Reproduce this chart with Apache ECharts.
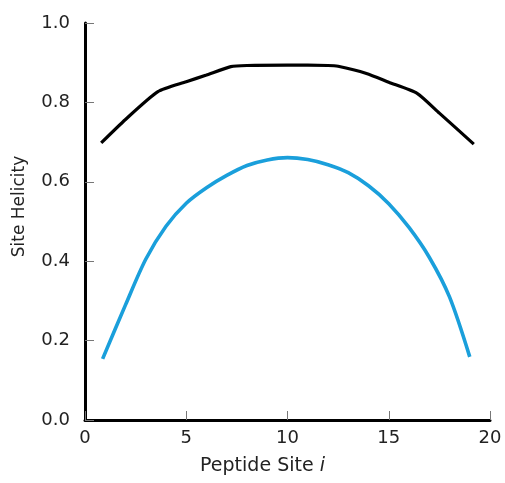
<!DOCTYPE html>
<html>
<head>
<meta charset="utf-8">
<script src="https://cdn.jsdelivr.net/npm/echarts@6/dist/echarts.min.js"></script>
<style>
html,body{margin:0;padding:0;background:#fff;}
#chart{width:505px;height:483px;}
</style>
</head>
<body>
<div id="chart"></div>
<script>
// Upper (black) curve
var blackX = [0.8, 2.0, 3.6, 5.0, 6.0, 7.2, 8.0, 10.0, 12.0, 12.5, 13.9, 15.0, 16.4, 17.5, 19.2];
var blackY = [0.698, 0.757, 0.827, 0.852, 0.869, 0.890, 0.893, 0.894, 0.893, 0.891, 0.873, 0.851, 0.823, 0.773, 0.695];
// Lower (blue) curve
var blueX = [0.87, 2, 3, 4, 5, 6, 7, 8, 9, 10, 11, 12, 13, 14, 15, 16, 17, 18, 19];
var blueY = [0.154, 0.29, 0.405, 0.488, 0.546, 0.585, 0.616, 0.641, 0.655, 0.661, 0.656, 0.643, 0.623, 0.590, 0.545, 0.485, 0.41, 0.31, 0.159];
// Axis ticks
var xTicks = [0, 5, 10, 15, 20];
var yTicks = [0.0, 0.2, 0.4, 0.6, 0.8, 1.0];

function pairs(xs, ys) { return xs.map(function (x, i) { return [x, ys[i]]; }); }

var FONT = 'DejaVu Sans';
var chart = echarts.init(document.getElementById('chart'), null, { renderer: 'canvas' });
chart.setOption({
  animation: false,
  backgroundColor: '#ffffff',
  grid: { left: 85, right: 15, top: 23, bottom: 63, containLabel: false },
  xAxis: {
    type: 'value', min: xTicks[0], max: xTicks[xTicks.length - 1], interval: 5,
    name: 'Peptide Site {i|i}', nameLocation: 'middle', nameGap: 37,
    nameTextStyle: { fontFamily: FONT, fontSize: 19, color: '#222', padding: [0, 50, 0, 0],
      rich: { i: { fontFamily: FONT, fontSize: 19, fontStyle: 'italic', color: '#222' } } },
    axisLine: { show: true, lineStyle: { color: '#000', width: 3 } },
    axisTick: { show: true, inside: true, length: 9, lineStyle: { color: '#777', width: 1 } },
    axisLabel: { fontFamily: FONT, fontSize: 18, color: '#222', margin: 9,
      formatter: function (v) { return String(v); } },
    splitLine: { show: false }
  },
  yAxis: {
    type: 'value', min: yTicks[0], max: yTicks[yTicks.length - 1], interval: 0.2,
    name: 'Site Helicity', nameLocation: 'middle', nameGap: 57,
    nameTextStyle: { fontFamily: FONT, fontSize: 17, color: '#222', padding: [0, 0, 0, 30] },
    axisLine: { show: true, lineStyle: { color: '#000', width: 3 } },
    axisTick: { show: true, inside: true, length: 9, lineStyle: { color: '#777', width: 1 } },
    axisLabel: { fontFamily: FONT, fontSize: 18, color: '#222', margin: 15,
      formatter: function (v) { return v.toFixed(1); } },
    splitLine: { show: false }
  },
  series: [
    { type: 'line', data: pairs(blackX, blackY), showSymbol: false, smooth: 0.2,
      lineStyle: { color: '#000000', width: 3.2 } },
    { type: 'line', data: pairs(blueX, blueY), showSymbol: false, smooth: 0.3,
      lineStyle: { color: '#1a9fdb', width: 3.6 } }
  ]
});
</script>
</body>
</html>
